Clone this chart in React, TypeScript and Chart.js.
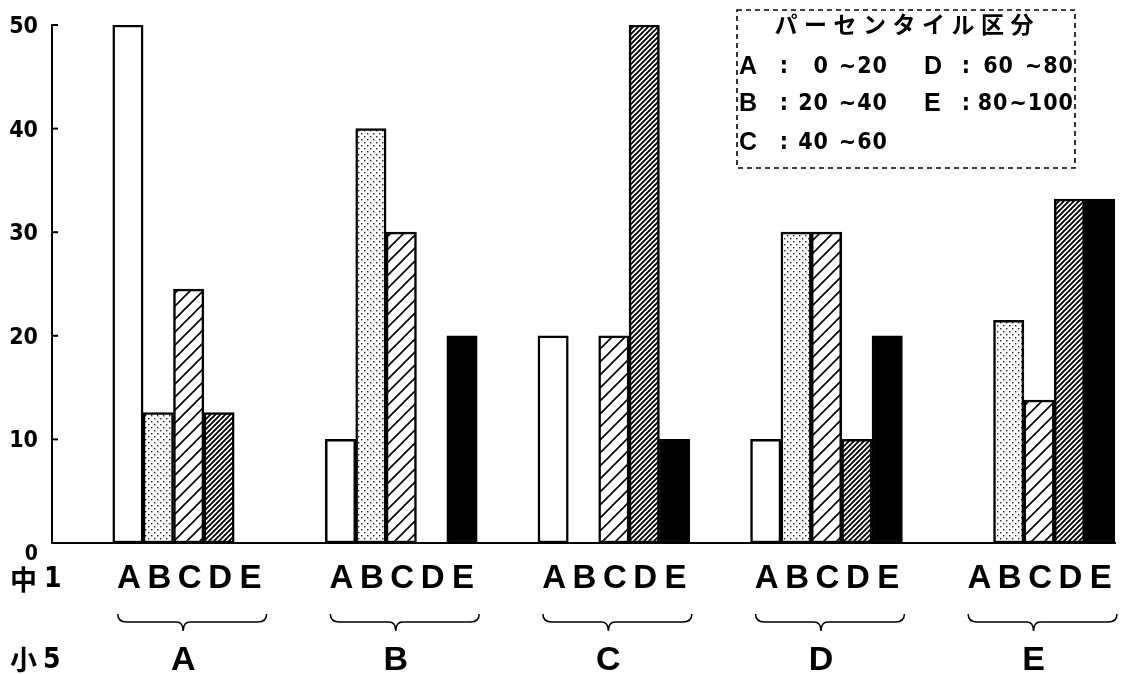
import { useEffect, useRef } from "react";
import { Chart, registerables } from "chart.js";

Chart.register(...registerables);

// 小5 percentile groups (outer categories)
const groups = ["A", "B", "C", "D", "E"];
// 中1 percentile groups (bars inside each group)
const subLabels = ["A", "B", "C", "D", "E"];
// values (%) for 中1 group, per 小5 group
const seriesA = [50, 10, 20, 10, 0];
const seriesB = [12.6, 40, 0, 30, 21.5];
const seriesC = [24.5, 30, 20, 30, 13.8];
const seriesD = [12.6, 0, 50, 10, 33.2];
const seriesE = [0, 20, 10, 20, 33.2];
const yTicks = [0, 10, 20, 30, 40, 50];
const rowLabel1 = ["中", "1"];
const rowLabel2 = ["小", "5"];
const legendTitle = "パーセンタイル区分";
const legendLeft = [
  ["A", "0", "~20"],
  ["B", "20", "~40"],
  ["C", "40", "~60"],
];
const legendRight = [
  ["D", "60", "~80"],
  ["E", "80", "~100"],
];

function makePattern(kind: string): CanvasPattern {
  const c = document.createElement("canvas");
  const x = c.getContext("2d")!;
  if (kind === "dots") {
    c.width = 6;
    c.height = 6;
    x.fillStyle = "#fff";
    x.fillRect(0, 0, 6, 6);
    x.fillStyle = "#222";
    x.fillRect(1, 1, 1.4, 1.4);
    x.fillRect(4, 4, 1.4, 1.4);
  } else {
    const s = kind === "sparse" ? 13 : 5;
    const lw = kind === "sparse" ? 1.6 : 1.9;
    c.width = s;
    c.height = s;
    x.fillStyle = "#fff";
    x.fillRect(0, 0, s, s);
    x.strokeStyle = "#000";
    x.lineWidth = lw;
    x.beginPath();
    x.moveTo(-1, s + 1);
    x.lineTo(s + 1, -1);
    x.moveTo(-2, 2);
    x.lineTo(2, -2);
    x.moveTo(s - 2, s + 2);
    x.lineTo(s + 2, s - 2);
    x.stroke();
  }
  return x.createPattern(c, "repeat")!;
}

const NARROW = '"DejaVu Sans Condensed", "Liberation Sans Narrow", sans-serif';
const WIDE = '"Liberation Sans", Arial, sans-serif';
const CJK = '"Noto Sans CJK JP", sans-serif';

const overlayPlugin = {
  id: "overlay",
  afterDraw(chart: any) {
    const ctx: CanvasRenderingContext2D = chart.ctx;
    const y = chart.scales.y;
    const area = chart.chartArea;
    ctx.save();
    // inward tick marks on y axis
    ctx.strokeStyle = "#000";
    ctx.lineWidth = 2;
    yTicks.forEach((t) => {
      if (t === 0) return;
      const py = y.getPixelForValue(t);
      ctx.beginPath();
      ctx.moveTo(area.left, py);
      ctx.lineTo(area.left + 6, py);
      ctx.stroke();
    });

    ctx.fillStyle = "#000";
    ctx.textBaseline = "middle";
    // y tick labels (zero sits below the baseline)
    ctx.textAlign = "right";
    yTicks.forEach((t) => {
      ctx.font = `bold ${t === 0 ? 21 : 23}px ${NARROW}`;
      const py = y.getPixelForValue(t) + (t === 0 ? 12 : 2);
      ctx.fillText(String(t), 38, py);
    });

    // row labels
    ctx.textAlign = "left";
    ctx.font = `bold 27px ${CJK}`;
    ctx.fillText(rowLabel1[0], 10, 580);
    ctx.fillText(rowLabel2[0], 10, 660);
    ctx.font = `bold 28px ${NARROW}`;
    ctx.fillText(rowLabel1[1], 44, 580);
    ctx.fillText(rowLabel2[1], 43, 661);

    const metas = [2, 3, 4, 5, 6].map((i) => chart.getDatasetMeta(i));
    groups.forEach((g, j) => {
      const bars = metas.map((m: any) => m.data[j]);
      ctx.textAlign = "center";
      ctx.font = `bold 33px ${WIDE}`;
      bars.forEach((b: any, k: number) => {
        ctx.fillText(subLabels[k], b.x + 1, 579);
      });
      const left = bars[0].x - bars[0].width / 2 + 5;
      const right = bars[4].x + bars[4].width / 2 + 2;
      const tip = (left + right) / 2 - 9;
      const y0 = 614;
      const yl = 622;
      const yt = 631;
      ctx.lineWidth = 1.5;
      ctx.beginPath();
      ctx.moveTo(left, y0);
      ctx.quadraticCurveTo(left, yl, left + 9, yl);
      ctx.lineTo(tip - 7, yl);
      ctx.quadraticCurveTo(tip, yl, tip, yt);
      ctx.quadraticCurveTo(tip, yl, tip + 7, yl);
      ctx.lineTo(right - 9, yl);
      ctx.quadraticCurveTo(right, yl, right, y0);
      ctx.stroke();
      ctx.font = `bold 34px ${WIDE}`;
      ctx.fillText(g, tip, 661);
    });

    // legend box
    ctx.setLineDash([5, 4]);
    ctx.lineWidth = 1.6;
    ctx.strokeRect(737, 10, 338, 158);
    ctx.setLineDash([]);
    ctx.font = `bold 23px ${CJK}`;
    ctx.textAlign = "center";
    Array.from(legendTitle).forEach((ch, i) => {
      ctx.fillText(ch, 786 + i * 29.5, 24);
    });
    const drawRow = (row: string[], yy: number, lx: number, cx: number, nx: number, rx: number) => {
      ctx.textAlign = "left";
      ctx.font = `bold 25px ${WIDE}`;
      ctx.fillText(row[0], lx, yy);
      ctx.textAlign = "center";
      ctx.font = `bold 23px ${NARROW}`;
      ctx.fillText(":", cx, yy);
      (ctx as any).letterSpacing = "1px";
      ctx.textAlign = "right";
      const rw = ctx.measureText(row[2]).width;
      const nxx = Math.min(nx, rx - rw - 1);
      ctx.fillText(row[1], nxx, yy);
      ctx.fillText(row[2], rx, yy);
      (ctx as any).letterSpacing = "0px";
    };
    const rowsY = [67, 104, 143];
    legendLeft.forEach((r, i) => drawRow(r, rowsY[i], 739, 784, 829, 888));
    legendRight.forEach((r, i) => drawRow(r, rowsY[i], 924, 966, 1014, 1074));
    ctx.restore();
  },
};

export default function App() {
  const ref = useRef<HTMLCanvasElement | null>(null);
  useEffect(() => {
    document.body.style.margin = "0";
    const canvas = ref.current!;
    const dots = makePattern("dots");
    const sparse = makePattern("sparse");
    const dense = makePattern("dense");
    const base = { borderColor: "#000", borderWidth: 2.5, borderSkipped: false as any };
    const chart = new Chart(canvas, {
      type: "bar",
      data: {
        labels: groups,
        datasets: [
          { label: "", data: groups.map(() => null) as any, backgroundColor: "transparent" },
          { label: "", data: groups.map(() => null) as any, backgroundColor: "transparent" },
          { label: "A", data: seriesA, backgroundColor: "#fff", ...base },
          { label: "B", data: seriesB, backgroundColor: dots as any, ...base },
          { label: "C", data: seriesC, backgroundColor: sparse as any, ...base },
          { label: "D", data: seriesD, backgroundColor: dense as any, ...base },
          { label: "E", data: seriesE, backgroundColor: "#000", ...base },
        ],
      },
      options: {
        animation: false,
        responsive: false,
        devicePixelRatio: 1,
        datasets: { bar: { categoryPercentage: 1, barPercentage: 1 } },
        layout: { padding: { top: 25, right: 22, left: 0, bottom: 0 } },
        plugins: { legend: { display: false }, tooltip: { enabled: false } },
        scales: {
          x: {
            grid: { display: false, drawTicks: false },
            ticks: { display: false },
            border: { display: true, color: "#000", width: 2 },
            afterFit: (s: any) => {
              s.height = 131;
            },
          },
          y: {
            min: 0,
            max: 50,
            afterBuildTicks: (s: any) => {
              s.ticks = yTicks.map((v) => ({ value: v }));
            },
            grid: { display: false, drawTicks: false },
            border: { display: true, color: "#000", width: 2 },
            ticks: { display: false },
            afterFit: (s: any) => {
              s.width = 52;
            },
          },
        },
      },
      plugins: [overlayPlugin],
    });
    return () => chart.destroy();
  }, []);
  return (
    <div style={{ position: "absolute", left: 0, top: 0, width: 1137, height: 674 }}>
      <canvas ref={ref} width={1137} height={674} />
    </div>
  );
}
